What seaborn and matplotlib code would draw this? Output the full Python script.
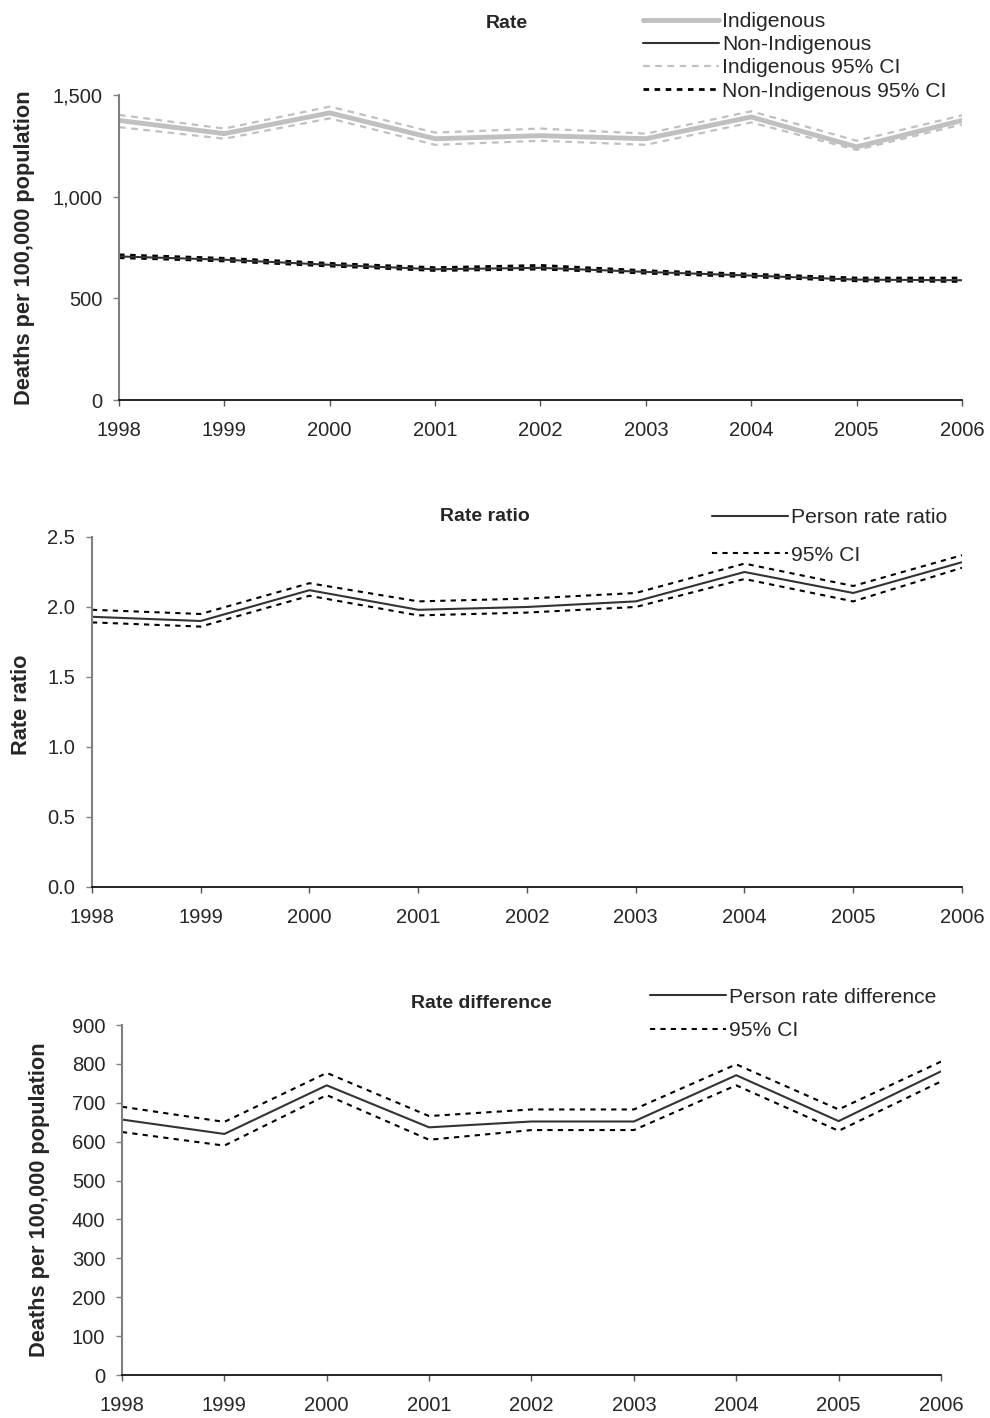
import pandas as pd
import matplotlib.pyplot as plt
import matplotlib.ticker as mticker
import seaborn as sns

# Data
years = [1998, 1999, 2000, 2001, 2002, 2003, 2004, 2005, 2006]

indig_rate = [1375, 1310, 1412, 1285, 1300, 1285, 1392, 1245, 1375]
indig_lo = [1342, 1285, 1385, 1255, 1275, 1255, 1365, 1230, 1355]
indig_hi = [1402, 1335, 1443, 1315, 1335, 1310, 1420, 1275, 1400]

nonind_rate = [706, 690, 665, 643, 650, 630, 612, 592, 589]
nonind_lo = [700, 684, 659, 637, 644, 624, 606, 586, 583]
nonind_hi = [714, 697, 672, 651, 662, 636, 619, 600, 600]

ratio = [1.93, 1.90, 2.12, 1.98, 2.00, 2.04, 2.25, 2.10, 2.32]
ratio_lo = [1.89, 1.86, 2.08, 1.94, 1.96, 2.00, 2.20, 2.04, 2.28]
ratio_hi = [1.98, 1.95, 2.17, 2.04, 2.06, 2.10, 2.31, 2.15, 2.37]

diff = [657, 620, 745, 637, 652, 652, 771, 653, 781]
diff_lo = [625, 590, 720, 605, 630, 630, 745, 628, 755]
diff_hi = [690, 651, 777, 666, 683, 683, 799, 683, 806]

sns.set_style("white")
plt.rcParams["font.family"] = ["Liberation Sans", "DejaVu Sans"]

LIGHT = "#c0c0c0"
DARK = "#333333"
TICK_FS = 14.5
LEG_FS = 15.2
LAB_FS = 15.7


def style_axes(ax, ymax, fmt):
    ax.set_xlim(1998, 2006)
    ax.set_ylim(0, ymax)
    ax.set_xticks(years)
    ax.set_xticklabels([str(y) for y in years])
    ax.yaxis.set_major_formatter(fmt)
    sns.despine(ax=ax)
    ax.spines["left"].set_color("#808080")
    ax.spines["left"].set_linewidth(1.5)
    ax.spines["bottom"].set_color("black")
    ax.spines["bottom"].set_linewidth(1.2)
    ax.tick_params(axis="y", direction="out", length=4.5, width=1,
                   color="#808080", labelsize=TICK_FS, pad=7.5, left=True)
    ax.tick_params(axis="x", direction="out", length=4, width=1,
                   color="#555555", labelsize=TICK_FS, pad=11, bottom=True)
    ax.set_xlabel("")


def plot_line(ax, y, color, lw, dashes=None, label=None):
    sns.lineplot(x=years, y=y, ax=ax, color=color, linewidth=lw,
                 legend=False, label=label)
    line = ax.lines[-1]
    if dashes is not None:
        line.set_dashes(dashes)
    return line


fig = plt.figure(figsize=(9.9, 14.18), dpi=100)

# ---------------------------
# 1. Rate
# ---------------------------
ax1 = fig.add_axes([0.1202, 0.7179, 0.8515, 0.2151])
h_ici = plot_line(ax1, indig_hi, LIGHT, 1.6, (3, 2.5))
plot_line(ax1, indig_lo, LIGHT, 1.6, (3, 2.5))
h_nci = plot_line(ax1, nonind_hi, "black", 2.0, (2, 2))
plot_line(ax1, nonind_lo, "black", 2.0, (2, 2))
h_ind = plot_line(ax1, indig_rate, LIGHT, 3.5)
h_non = plot_line(ax1, nonind_rate, DARK, 1.5)
style_axes(ax1, 1500, mticker.StrMethodFormatter("{x:,.0f}"))
ax1.set_yticks([0, 500, 1000, 1500])
ax1.set_ylabel("Deaths per 100,000 population", fontsize=LAB_FS, fontweight="bold")
ax1.yaxis.set_label_coords(-0.10, 0.5)
fig.legend([h_ind, h_non, h_ici, h_nci],
           ["Indigenous", "Non-Indigenous", "Indigenous 95% CI", "Non-Indigenous 95% CI"],
           loc="upper left", bbox_to_anchor=(0.6495, 0.9915), frameon=False,
           fontsize=LEG_FS, handlelength=3.6, handletextpad=0.15,
           labelspacing=0.2, borderpad=0, borderaxespad=0)
fig.text(0.512, 0.9835, "Rate", ha="center", va="center",
         fontsize=14, fontweight="bold")

# ---------------------------
# 2. Rate ratio
# ---------------------------
ax2 = fig.add_axes([0.0929, 0.3745, 0.8788, 0.2468])
h_rci = plot_line(ax2, ratio_hi, "black", 1.5, (2.5, 2.5))
plot_line(ax2, ratio_lo, "black", 1.5, (2.5, 2.5))
h_r = plot_line(ax2, ratio, DARK, 1.5)
style_axes(ax2, 2.5, mticker.StrMethodFormatter("{x:.1f}"))
ax2.set_yticks([0, 0.5, 1.0, 1.5, 2.0, 2.5])
ax2.set_ylabel("Rate ratio", fontsize=LAB_FS, fontweight="bold")
ax2.yaxis.set_label_coords(-0.069, 0.52)
fig.legend([h_r, h_rci], ["Person rate ratio", "95% CI"],
           loc="upper left", bbox_to_anchor=(0.719, 0.6417), frameon=False,
           fontsize=LEG_FS, handlelength=3.6, handletextpad=0.15,
           labelspacing=0.89, borderpad=0, borderaxespad=0)
fig.text(0.49, 0.636, "Rate ratio", ha="center", va="center",
         fontsize=14, fontweight="bold")

# ---------------------------
# 3. Rate difference
# ---------------------------
ax3 = fig.add_axes([0.1232, 0.0303, 0.8273, 0.2468])
h_dci = plot_line(ax3, diff_hi, "black", 1.5, (2.5, 2.5))
plot_line(ax3, diff_lo, "black", 1.5, (2.5, 2.5))
h_d = plot_line(ax3, diff, DARK, 1.5)
style_axes(ax3, 900, mticker.StrMethodFormatter("{x:.0f}"))
ax3.set_yticks(range(0, 901, 100))
ax3.set_ylabel("Deaths per 100,000 population", fontsize=LAB_FS, fontweight="bold")
ax3.yaxis.set_label_coords(-0.088, 0.5)
fig.legend([h_d, h_dci], ["Person rate difference", "95% CI"],
           loc="upper left", bbox_to_anchor=(0.6566, 0.3034), frameon=False,
           fontsize=LEG_FS, handlelength=3.6, handletextpad=0.15,
           labelspacing=0.69, borderpad=0, borderaxespad=0)
fig.text(0.486, 0.292, "Rate difference", ha="center", va="center",
         fontsize=14, fontweight="bold")

fig.savefig("out.png", dpi=100)
